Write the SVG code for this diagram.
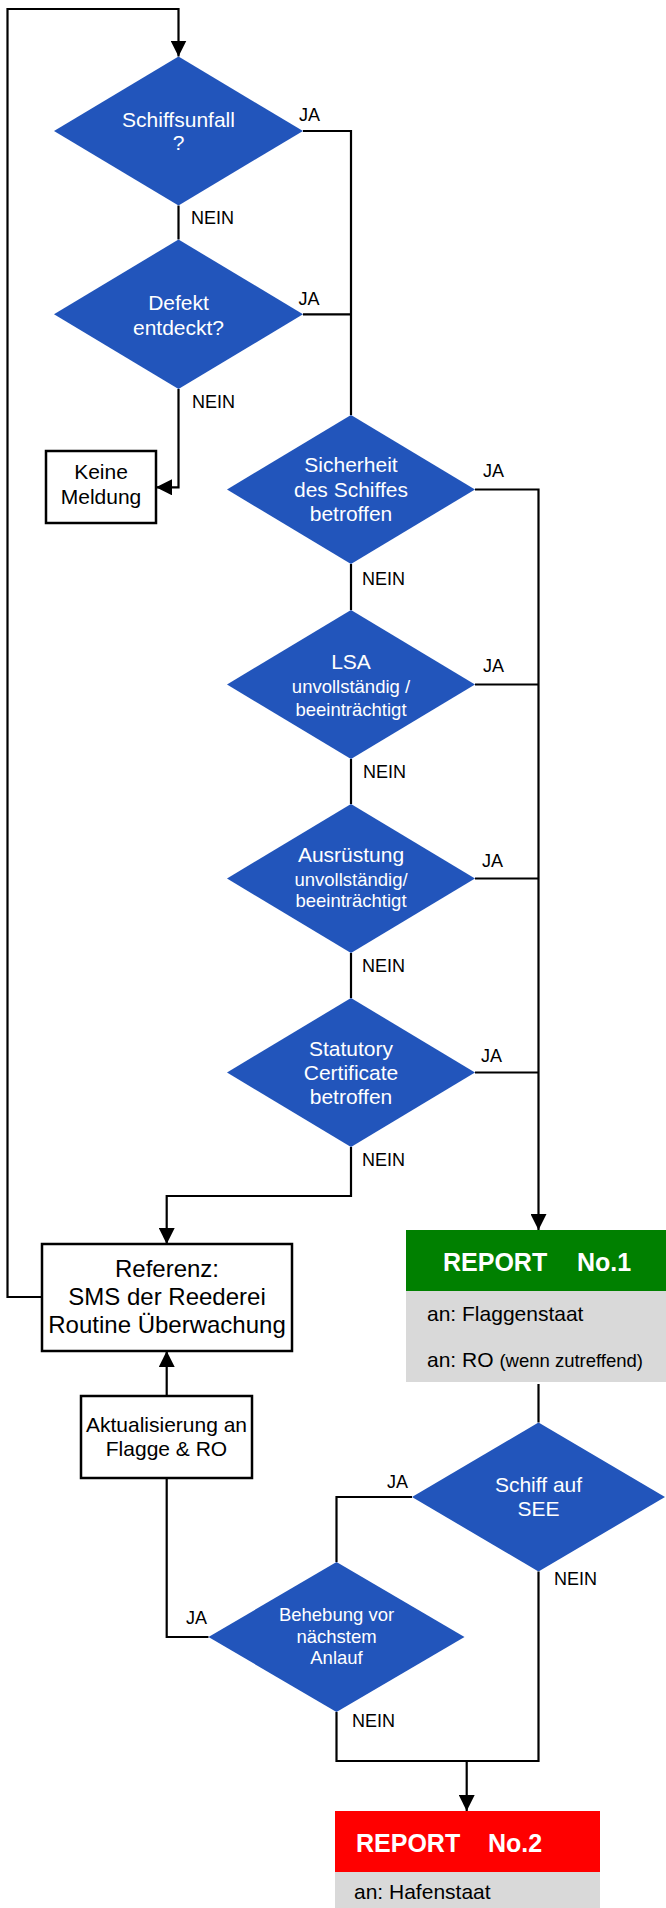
<svg xmlns="http://www.w3.org/2000/svg" width="666" height="1908" viewBox="0 0 666 1908">
<style>
text{font-family:"Liberation Sans",Arial,sans-serif}
.dia{fill:#2255BB}
.dt{fill:#fff;font-size:21px;text-anchor:middle}
.ds{fill:#fff;font-size:18.5px;text-anchor:middle}
.lbl{fill:#000;font-size:18px}
.box{fill:#fff;stroke:#000;stroke-width:2.5}
.bt{fill:#000;font-size:21px;text-anchor:middle}
.bt24{fill:#000;font-size:24px;text-anchor:middle}
.rep{fill:#fff;font-size:25px;font-weight:bold}
.gt{fill:#000;font-size:21px}
.con{fill:none;stroke:#000;stroke-width:2.2}
</style>
<defs>
<marker id="arr" markerUnits="userSpaceOnUse" markerWidth="16" markerHeight="16" refX="16" refY="8" orient="auto">
<path d="M0,0 L16,8 L0,16 z" fill="#000"/>
</marker>
</defs>
<rect width="666" height="1908" fill="#fff"/>
<g id="connectors">
<path class="con" d="M42,1297 H7.5 V9 H178.5 V56.5" marker-end="url(#arr)"/>
<path class="con" d="M178.5,205.5 V239.5"/>
<path class="con" d="M303,131 H351 V415"/>
<path class="con" d="M303,314.3 H351"/>
<path class="con" d="M178.5,389 V487.3 H156" marker-end="url(#arr)"/>
<path class="con" d="M475,489.5 H538.5 V1230" marker-end="url(#arr)"/>
<path class="con" d="M351,564 V610"/>
<path class="con" d="M475,684.5 H538.5"/>
<path class="con" d="M351,759 V804"/>
<path class="con" d="M475,878.5 H538.5"/>
<path class="con" d="M351,953 V998"/>
<path class="con" d="M475,1072.5 H538.5"/>
<path class="con" d="M351,1147 V1196 H166.7 V1244" marker-end="url(#arr)"/>
<path class="con" d="M166.7,1396 V1351" marker-end="url(#arr)"/>
<path class="con" d="M538.5,1384 V1422.5"/>
<path class="con" d="M412,1497 H336.5 V1562"/>
<path class="con" d="M208.5,1637 H166.7 V1478"/>
<path class="con" d="M336.5,1712 V1761 H538.5 V1571.5"/>
<path class="con" d="M466.7,1761 V1811" marker-end="url(#arr)"/>
</g>
<g id="labels">
<text class="lbl" x="299" y="121">JA</text>
<text class="lbl" x="191" y="224">NEIN</text>
<text class="lbl" x="298.5" y="305">JA</text>
<text class="lbl" x="192" y="408">NEIN</text>
<text class="lbl" x="483" y="477">JA</text>
<text class="lbl" x="362" y="585">NEIN</text>
<text class="lbl" x="483" y="672">JA</text>
<text class="lbl" x="363" y="778">NEIN</text>
<text class="lbl" x="482" y="867">JA</text>
<text class="lbl" x="362" y="972">NEIN</text>
<text class="lbl" x="481" y="1062">JA</text>
<text class="lbl" x="362" y="1166">NEIN</text>
<text class="lbl" x="387" y="1488">JA</text>
<text class="lbl" x="554" y="1585">NEIN</text>
<text class="lbl" x="186" y="1624">JA</text>
<text class="lbl" x="352" y="1727">NEIN</text>
</g>
<g id="d1">
<polygon class="dia" points="178.5,56.5 303,131 178.5,205.5 54,131"/>
<text class="dt" x="178.5" y="127">Schiffsunfall</text>
<text class="dt" x="178.5" y="150">?</text>
</g>
<g id="d2">
<polygon class="dia" points="178.5,239.5 303,314.3 178.5,389 54,314.3"/>
<text class="dt" x="178.5" y="309.5">Defekt</text>
<text class="dt" x="178.5" y="334.5">entdeckt?</text>
</g>
<g id="keine">
<rect class="box" x="46" y="451" width="110" height="72"/>
<text class="bt" x="101" y="479">Keine</text>
<text class="bt" x="101" y="504">Meldung</text>
</g>
<g id="d3">
<polygon class="dia" points="351,415 475,489.5 351,564 227,489.5"/>
<text class="dt" x="351" y="472">Sicherheit</text>
<text class="dt" x="351" y="497">des Schiffes</text>
<text class="dt" x="351" y="521">betroffen</text>
</g>
<g id="d4">
<polygon class="dia" points="351,610 475,684.5 351,759 227,684.5"/>
<text class="dt" x="351" y="669">LSA</text>
<text class="ds" x="351" y="693">unvollständig /</text>
<text class="ds" x="351" y="716">beeinträchtigt</text>
</g>
<g id="d5">
<polygon class="dia" points="351,804 475,878.5 351,953 227,878.5"/>
<text class="dt" x="351" y="862">Ausrüstung</text>
<text class="ds" x="351" y="886">unvollständig/</text>
<text class="ds" x="351" y="907">beeinträchtigt</text>
</g>
<g id="d6">
<polygon class="dia" points="351,998 475,1072.5 351,1147 227,1072.5"/>
<text class="dt" x="351" y="1056">Statutory</text>
<text class="dt" x="351" y="1080">Certificate</text>
<text class="dt" x="351" y="1104">betroffen</text>
</g>
<g id="referenz">
<rect class="box" x="42" y="1244" width="250" height="107"/>
<text class="bt24" x="167" y="1277">Referenz:</text>
<text class="bt24" x="167" y="1305">SMS der Reederei</text>
<text class="bt24" x="167" y="1333">Routine Überwachung</text>
</g>
<g id="aktualisierung">
<rect class="box" x="81" y="1396" width="171" height="82"/>
<text class="bt" x="166.5" y="1432">Aktualisierung an</text>
<text class="bt" x="166.5" y="1456">Flagge &amp; RO</text>
</g>
<g id="report1">
<rect x="406" y="1230" width="260" height="61" fill="#008000"/>
<rect x="406" y="1291" width="260" height="91" fill="#D9D9D9"/>
<text class="rep" x="443" y="1271">REPORT</text>
<text class="rep" x="577" y="1271">No.1</text>
<text class="gt" x="427" y="1321">an: Flaggenstaat</text>
<text class="gt" x="427" y="1367">an: RO <tspan font-size="18.5">(wenn zutreffend)</tspan></text>
</g>
<g id="d7">
<polygon class="dia" points="538.5,1422.5 665,1497 538.5,1571.5 412,1497"/>
<text class="dt" x="538.5" y="1492">Schiff auf</text>
<text class="dt" x="538.5" y="1516">SEE</text>
</g>
<g id="d8">
<polygon class="dia" points="336.5,1562 464.5,1637 336.5,1712 208.5,1637"/>
<text class="ds" x="336.5" y="1621">Behebung vor</text>
<text class="ds" x="336.5" y="1643">nächstem</text>
<text class="ds" x="336.5" y="1664">Anlauf</text>
</g>
<g id="report2">
<rect x="335" y="1811" width="265" height="61" fill="#FF0000"/>
<rect x="335" y="1872" width="265" height="36" fill="#D9D9D9"/>
<text class="rep" x="356" y="1852">REPORT</text>
<text class="rep" x="488" y="1852">No.2</text>
<text class="gt" x="354" y="1899">an: Hafenstaat</text>
</g>
</svg>
